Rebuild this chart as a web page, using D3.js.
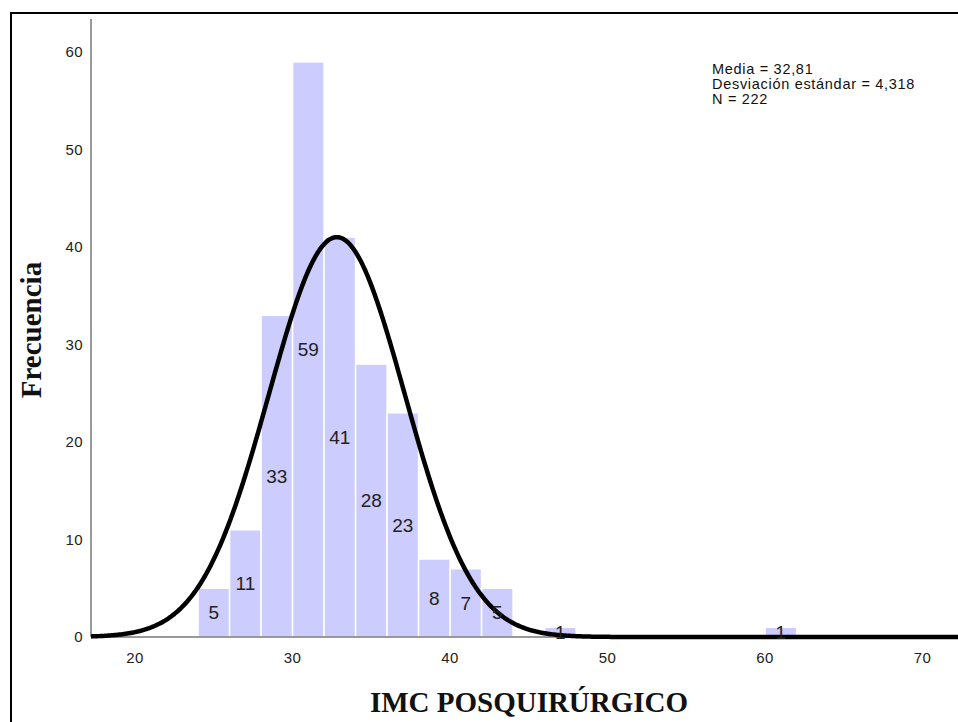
<!DOCTYPE html>
<html>
<head>
<meta charset="utf-8">
<script src="https://cdn.jsdelivr.net/npm/d3@7"></script>
<style>
  body { margin: 0; background: #fff; }
  svg { display: block; }
</style>
</head>
<body>
<div id="chart"></div>
<script>
// histogram bins (lower edge) and frequencies
const binStarts = [24, 26, 28, 30, 32, 34, 36, 38, 40, 42, 44, 46, 48, 50, 52, 54, 56, 58, 60];
const counts = [5, 11, 33, 59, 41, 28, 23, 8, 7, 5, 0, 1, 0, 0, 0, 0, 0, 0, 1];
const binWidth = 2;

const xTicks = [20, 30, 40, 50, 60, 70];
const yTicks = [0, 10, 20, 30, 40, 50, 60];

const mean = 32.81;
const sd = 4.318;
const n = 222;
const statLines = ["Media = 32,81", "Desviación estándar = 4,318", "N = 222"];

const width = 958;
const height = 722;

const svg = d3
  .select("#chart")
  .append("svg")
  .attr("width", width)
  .attr("height", height);

// frame
svg
  .append("rect")
  .attr("x", 11)
  .attr("y", 13)
  .attr("width", 1000)
  .attr("height", 800)
  .attr("fill", "none")
  .attr("stroke", "#000")
  .attr("stroke-width", 2);

var x = d3.scaleLinear().domain([17.2, 73.5]).range([91, 977.7]);
var y = d3.scaleLinear().domain([0, 63.4]).range([637, 19]);

var bins = binStarts.map((s, i) => ({ x0: s, x1: s + binWidth, count: counts[i] }));

// bars
svg
  .append("g")
  .selectAll("rect")
  .data(bins.filter((d) => d.count > 0))
  .enter()
  .append("rect")
  .attr("x", (d) => x(d.x0))
  .attr("y", (d) => y(d.count))
  .attr("width", (d) => x(d.x1) - x(d.x0))
  .attr("height", (d) => y(0) - y(d.count))
  .attr("fill", "#ccccff")
  .attr("stroke", "#fff")
  .attr("stroke-width", 1.5);

// axis lines
svg
  .append("line")
  .attr("x1", x(17.2))
  .attr("x2", x(17.2))
  .attr("y1", y(63.4))
  .attr("y2", y(0))
  .attr("stroke", "#777")
  .attr("stroke-width", 1.5);
svg
  .append("line")
  .attr("x1", x(17.2))
  .attr("x2", width)
  .attr("y1", y(0))
  .attr("y2", y(0))
  .attr("stroke", "#777")
  .attr("stroke-width", 1.5);

svg
  .append("g")
  .selectAll("text")
  .data(yTicks)
  .enter()
  .append("text")
  .attr("x", 83)
  .attr("y", (d) => y(d))
  .attr("dy", "0.35em")
  .attr("text-anchor", "end")
  .attr("font-family", "Liberation Sans, Arial, sans-serif")
  .attr("font-size", 15)
  .attr("letter-spacing", 0.4)
  .attr("fill", "#222")
  .text((d) => d);

svg
  .append("g")
  .selectAll("text")
  .data(xTicks)
  .enter()
  .append("text")
  .attr("x", (d) => x(d))
  .attr("y", 663)
  .attr("text-anchor", "middle")
  .attr("font-family", "Liberation Sans, Arial, sans-serif")
  .attr("font-size", 15)
  .attr("letter-spacing", 0.4)
  .attr("fill", "#222")
  .text((d) => d);

// normal curve from the reported mean / sd
var scaleN = (n * binWidth) / (sd * Math.sqrt(2 * Math.PI));
var curvePts = d3.range(17.2, 73.5, 0.1).map((v) => [
  v,
  scaleN * Math.exp(-((v - mean) * (v - mean)) / (2 * sd * sd)),
]);
svg
  .append("path")
  .datum(curvePts)
  .attr("fill", "none")
  .attr("stroke", "#000")
  .attr("stroke-width", 4.5)
  .attr("stroke-linejoin", "round")
  .attr(
    "d",
    d3
      .line()
      .x((d) => x(d[0]))
      .y((d) => y(d[1]))
  );

// bar labels
svg
  .append("g")
  .selectAll("text")
  .data(bins.filter((d) => d.count > 0))
  .enter()
  .append("text")
  .attr("x", (d) => (x(d.x0) + x(d.x1)) / 2)
  .attr("y", (d) => y(d.count / 2))
  .attr("dy", "0.35em")
  .attr("text-anchor", "middle")
  .attr("font-family", "Liberation Sans, Arial, sans-serif")
  .attr("font-size", 19)
  .attr("fill", "#222")
  .text((d) => d.count);

// stats box
svg
  .append("g")
  .selectAll("text")
  .data(statLines)
  .enter()
  .append("text")
  .attr("x", 712)
  .attr("y", (d, i) => 74 + i * 15)
  .attr("font-family", "Liberation Sans, Arial, sans-serif")
  .attr("font-size", 14.5)
  .attr("letter-spacing", 0.7)
  .attr("fill", "#111")
  .text((d) => d);

// axis titles
svg
  .append("text")
  .attr("x", 529)
  .attr("y", 712)
  .attr("text-anchor", "middle")
  .attr("font-family", "Liberation Serif, Times New Roman, serif")
  .attr("font-weight", "bold")
  .attr("font-size", 29)
  .attr("fill", "#111")
  .text("IMC POSQUIRÚRGICO");

svg
  .append("text")
  .attr("transform", "translate(41,330) rotate(-90)")
  .attr("text-anchor", "middle")
  .attr("font-family", "Liberation Serif, Times New Roman, serif")
  .attr("font-weight", "bold")
  .attr("font-size", 29)
  .attr("fill", "#111")
  .text("Frecuencia");
</script>
</body>
</html>
